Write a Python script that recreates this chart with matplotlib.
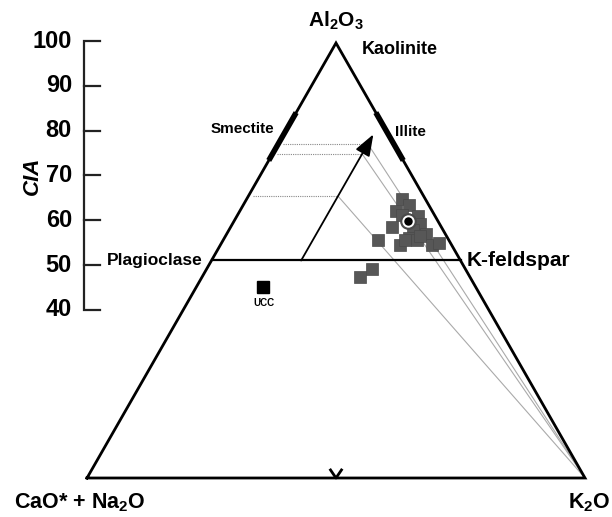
import numpy as np
import matplotlib.pyplot as plt

plt.rcParams['font.family'] = ['Liberation Sans', 'DejaVu Sans']
plt.rcParams['font.weight'] = 'bold'
plt.rcParams['mathtext.fontset'] = 'custom'
plt.rcParams['mathtext.rm'] = 'Liberation Sans:bold'
plt.rcParams['mathtext.bf'] = 'Liberation Sans:bold'
plt.rcParams['mathtext.default'] = 'bf'

# sample compositions (molar %): A = Al2O3, CN = CaO* + Na2O, K = K2O
samp_A = [64.1, 62.8, 61.4, 60.2, 60.5, 57.7, 58.4, 57.0, 56.1, 55.2, 53.6,
          54.7, 54.7, 53.6, 54.0, 54.7, 55.6, 48.0, 46.2]
samp_K = [31.2, 33.2, 31.3, 36.4, 33.0, 32.4, 37.7, 37.0, 40.0, 37.1, 36.1,
          31.1, 36.5, 42.5, 43.7, 38.9, 39.1, 33.2, 31.7]
samp_CN = [100 - a - k for a, k in zip(samp_A, samp_K)]

mean_A, mean_K = 59.1, 34.9      # sample average
ucc_A, ucc_K = 43.8, 13.5        # upper continental crust

cia_ticks = [40, 50, 60, 70, 80, 90, 100]

# predicted weathering trend and tie lines
trend_K = 18
trend_A = [50, 79]
tie_A = [76.8, 74.5, 64.8]
smectite_A = [73, 84]
illite_A = [73, 84]
feldspar_A = 50


def tern(a, k):
    a = np.asarray(a, float) / 100
    k = np.asarray(k, float) / 100
    return k + a / 2, a * np.sqrt(3) / 2


def px(x, y):
    # figure pixel -> data coords
    return (x - 87) / 498, (478 - y) / 502.3


def cia_y(c):
    return px(0, 41 + (100 - c) * 4.48)[1]


fig = plt.figure(figsize=(6.12, 5.17), dpi=100)
ax = fig.add_axes([0, 0, 1, 1])
ax.set_xlim(-87 / 498, 525 / 498)
ax.set_ylim(-39 / 502.3, 478 / 502.3)
ax.axis('off')

# triangle
tx, ty = tern([0, 0, 100, 0], [0, 100, 0, 0])
ax.plot(tx, ty, color='black', lw=2, solid_joinstyle='miter', zorder=3)

# feldspar join
fx, fy = tern([feldspar_A, feldspar_A], [0, 100 - feldspar_A])
ax.plot(fx, fy, color='black', lw=1.6, zorder=3)

# small mark at base midpoint
mx, my = tern(0, 50)
ax.plot([mx - 0.011, mx, mx + 0.011], [my + 0.016, my, my + 0.016],
        color='black', lw=2, zorder=3)

# smectite / illite bars
sx, sy = tern(smectite_A, [0, 0])
ax.plot(sx, sy, color='black', lw=4, solid_capstyle='butt', zorder=4)
ix, iy = tern(illite_A, [100 - a for a in illite_A])
ax.plot(ix, iy, color='black', lw=4, solid_capstyle='butt', zorder=4)

# tie lines
kx, ky = tern(0, 100)
for a in tie_A:
    x0, y0 = tern(a, 1)
    x1, y1 = tern(a, trend_K)
    ax.plot([x0, x1], [y0, y1], color='#888888', lw=0.8, ls=(0, (1, 1)), zorder=2)
    ax.plot([x1, kx], [y1, ky], color='#aaaaaa', lw=0.8, zorder=2)

# weathering arrow
ax0 = tern(trend_A[0], trend_K)
ax1 = tern(trend_A[1], trend_K)
ax.annotate('', xy=ax1, xytext=ax0,
            arrowprops=dict(arrowstyle='-|>,head_length=0.6,head_width=0.22',
                            lw=1.3, color='black',
                            mutation_scale=22, shrinkA=0, shrinkB=0), zorder=4)

# samples
x, y = tern(samp_A, samp_K)
ax.plot(x, y, 's', ms=8, color='#575757', mec='#4a4a4a', mew=0.5, zorder=5)
cx, cy = tern(mean_A, mean_K)
ax.plot(cx, cy, 'o', ms=11, color='#4a4a4a', zorder=6)
ax.plot(cx, cy, 'o', ms=7.5, mfc='black', mec='white', mew=1.4, zorder=7)
ux, uy = tern(ucc_A, ucc_K)
ax.plot(ux, uy, 's', ms=8.5, color='black', zorder=5)
ax.text(*px(264, 303), 'UCC', fontsize=7, ha='center', va='center')

# CIA axis
axx = px(84, 0)[0]
tkx = px(100, 0)[0]
ax.plot([tkx, axx, axx, tkx], [cia_y(100), cia_y(100), cia_y(40), cia_y(40)],
        color='#222222', lw=1.6, solid_joinstyle='miter')
for c in cia_ticks[1:-1]:
    ax.plot([axx, tkx], [cia_y(c), cia_y(c)], color='#222222', lw=1.6)
for c in cia_ticks:
    ax.text(px(72, 0)[0], cia_y(c), str(c), fontsize=17, ha='right', va='center')
ax.text(*px(32, 176), 'CIA', fontsize=16, style='italic', rotation=90,
        ha='center', va='center')

# labels
ax.text(*px(336, 21), r'Al$_2$O$_3$', fontsize=15, ha='center', va='center')
ax.text(*px(362, 50), 'Kaolinite', fontsize=13, ha='left', va='center')
ax.text(*px(242, 129), 'Smectite', fontsize=11, ha='center', va='center')
ax.text(*px(395, 132), 'Illite', fontsize=11, ha='left', va='center')
ax.text(*px(155, 260), 'Plagioclase', fontsize=12.5, ha='center', va='center')
ax.text(*px(518, 260), 'K-feldspar', fontsize=15, ha='center', va='center')
ax.text(*px(80, 503), r'CaO* + Na$_2$O', fontsize=15.5, ha='center', va='center')
ax.text(*px(589, 503), r'K$_2$O', fontsize=15.5, ha='center', va='center')

fig.savefig('out.png', dpi=100)
